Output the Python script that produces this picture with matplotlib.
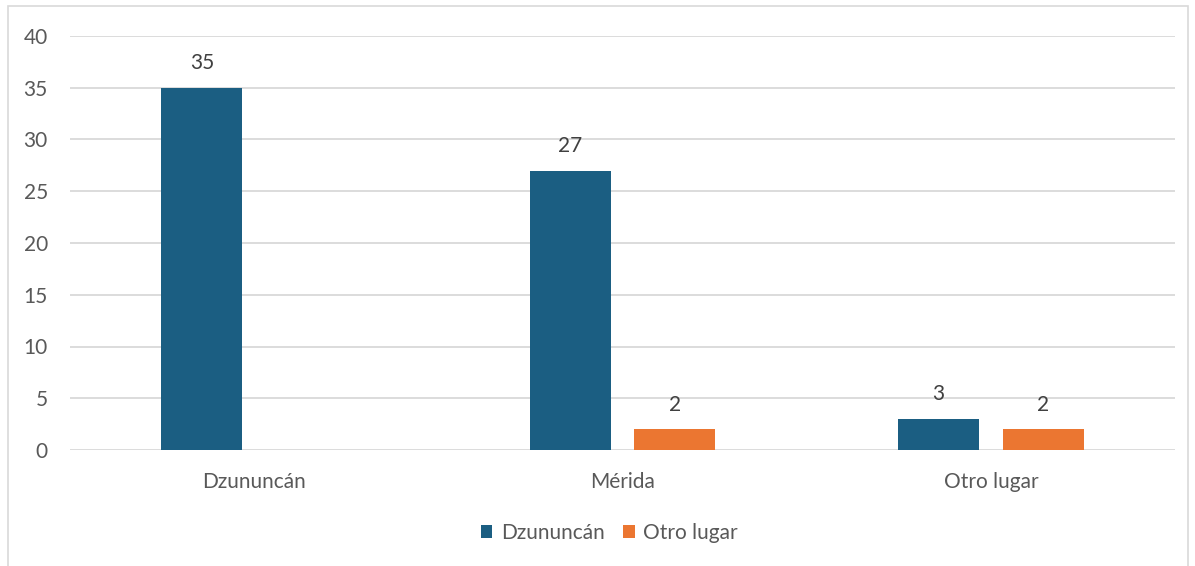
import numpy as np
import matplotlib
matplotlib.use("Agg")
import matplotlib.pyplot as plt
from matplotlib.patches import Rectangle

# Data
categories = ["Dzununcán", "Mérida", "Otro lugar"]
dzununcan = [35, 27, 3]
otro_lugar = [np.nan, 2, 2]
series_names = ["Dzununcán", "Otro lugar"]

blue = "#1B5E82"
orange = "#EB7631"
txt = "#595959"

plt.rcParams['font.family'] = ['Lato', 'DejaVu Sans']

fig = plt.figure(figsize=(11.95, 5.66), dpi=100)
ax = fig.add_axes([70/1195, 116/566, 1105/1195, 414/566])

# outer chart border
fig.patches.append(Rectangle((8/1195, -0.01), 1180/1195, 1 - 6/566 + 0.01,
                             transform=fig.transFigure, fill=False,
                             edgecolor="#D9D9D9", linewidth=1.2))

x = np.arange(len(categories))
w = 0.22
off = 0.142
b1 = ax.bar(x - off, dzununcan, w, color=blue, label=series_names[0], zorder=3)
b2 = ax.bar(x + off, otro_lugar, w, color=orange, label=series_names[1], zorder=3)

for bars, vals in ((b1, dzununcan), (b2, otro_lugar)):
    for rect, v in zip(bars, vals):
        if np.isnan(v):
            continue
        ax.text(rect.get_x() + rect.get_width()/2, v + 1.4, "%d" % v,
                ha="center", va="bottom", fontsize=15, color="#404040")

ax.set_xlim(-0.5, 2.5)
ax.set_ylim(0, 40)
ax.set_yticks(range(0, 41, 5))
ax.set_xticks(x)
ax.set_xticklabels(categories)
ax.yaxis.grid(True, color="#D9D9D9", linewidth=1.3, zorder=0)
ax.tick_params(axis="both", length=0, labelsize=15, labelcolor=txt)
ax.tick_params(axis="x", pad=16)
ax.tick_params(axis="y", pad=16)
for s in ax.spines.values():
    s.set_visible(False)

ax.legend(loc="center", bbox_to_anchor=(0.488, -0.2), ncol=2, frameon=False,
          fontsize=15, labelcolor=txt, handlelength=0.55, handleheight=0.55,
          handletextpad=0.4, columnspacing=0.9)

fig.savefig("out.png", dpi=100)
